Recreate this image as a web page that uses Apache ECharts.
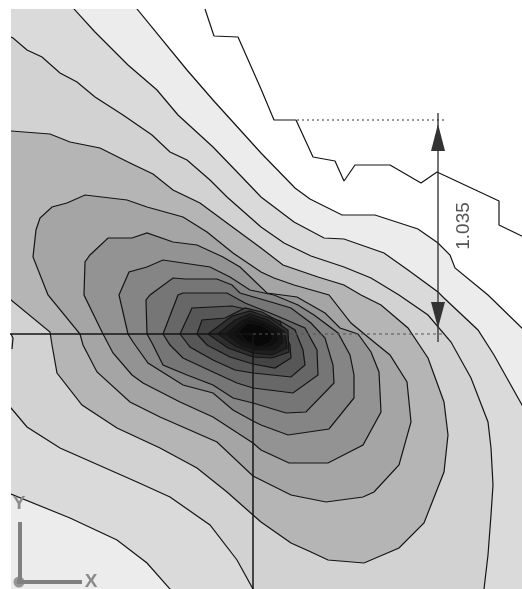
<!DOCTYPE html>
<html><head><meta charset="utf-8">
<style>html,body{margin:0;padding:0;background:#fff}#c{width:522px;height:589px;filter:blur(0.35px)}</style>
<script src="https://cdn.jsdelivr.net/npm/echarts@6/dist/echarts.min.js"></script>
</head><body><div id="c"></div>
<script>
const dimensionLabel = '1.035';
const axisLabelY = 'Y';
const axisLabelX = 'X';
const shades = ['#ececec','#dadada','#d2d2d2','#b5b5b5','#a5a5a5','#939393','#858585','#767676','#676767','#575757','#444444','#2e2e2e','#1f1f1f','#151515','#0e0e0e','#080808'];
const contourA = [[130,0],[137,9],[187,70],[213,100],[261,153],[295,188],[310,199],[342,215],[375,215],[418,229],[438,243],[450,255],[455,268],[488,295],[530,336],[530,600],[0,600],[0,0]];
const contourB = [[68,0],[74,9],[95,32],[128,65],[157,90],[178,115],[213,147],[240,175],[261,197],[294,222],[324,238],[344,239],[384,253],[408,270],[438,292],[444,298],[478,330],[494,355],[522,405],[530,420],[530,600],[175,600],[170,589],[147,563],[117,540],[70,518],[11,494],[0,490],[0,0]];
const contourC = [[0,33],[13,38],[27,50],[42,57],[60,73],[77,82],[95,97],[123,115],[152,135],[170,152],[187,160],[210,180],[227,197],[261,227],[284,243],[311,256],[344,267],[371,278],[399,295],[428,315],[451,342],[471,378],[488,422],[491,448],[493,485],[491,515],[488,555],[484,589],[483,600],[258,600],[253,589],[237,560],[210,525],[170,497],[137,482],[103,467],[60,448],[27,427],[11,408],[0,398]];
const contourD = [[0,131],[11,131],[50,134],[70,142],[100,148],[130,163],[153,174],[173,190],[200,203],[227,223],[261,248],[283,265],[318,277],[344,285],[361,295],[381,305],[408,328],[428,358],[444,402],[448,435],[444,472],[424,523],[399,548],[364,563],[328,560],[311,552],[291,543],[261,522],[253,515],[227,492],[197,468],[160,448],[117,428],[82,405],[57,373],[52,345],[50,332],[11,300],[0,292]];
const contourE = [[48,295],[33,257],[36,230],[40,218],[52,207],[67,203],[85,195],[127,200],[147,207],[183,217],[207,232],[233,253],[261,272],[274,278],[294,285],[329,295],[351,323],[374,342],[390,355],[407,382],[411,422],[399,465],[374,492],[363,497],[326,502],[291,495],[261,480],[253,476],[217,442],[160,417],[130,402],[97,372],[83,345],[80,334]];
const contourF = [[84,295],[85,262],[90,255],[108,238],[132,238],[147,233],[173,242],[197,245],[223,257],[240,267],[267,293],[297,297],[325,313],[340,328],[358,334],[371,352],[379,372],[381,412],[363,445],[328,463],[289,463],[261,450],[253,443],[213,417],[180,402],[143,383],[132,375],[113,353],[103,334]];
const contourG = [[119,295],[129,272],[147,267],[163,260],[210,267],[230,277],[250,290],[274,295],[298,305],[314,315],[338,333],[350,355],[354,375],[354,398],[329,429],[288,435],[261,425],[253,421],[233,410],[213,393],[183,385],[148,363],[133,342],[128,334]];
const contourH = [[147,334],[146,300],[150,295],[173,278],[185,279],[217,279],[232,285],[240,293],[271,302],[291,308],[311,323],[325,338],[333,365],[334,383],[306,412],[286,413],[253,403],[233,398],[213,385],[187,375],[163,365],[152,343]];
const contourI = [[163,334],[178,295],[183,293],[227,293],[245,303],[275,315],[305,328],[317,350],[318,375],[293,393],[253,388],[237,383],[213,372],[183,358],[170,345]];
const contourJ = [[180,334],[192,308],[212,307],[232,306],[250,310],[280,321],[295,330],[303,350],[305,365],[291,377],[253,373],[235,370],[213,360],[190,347]];
const contourK = [[197,334],[202,320],[225,318],[245,308],[262,312],[280,322],[290,345],[291,358],[275,368],[253,364],[230,357],[207,345]];
const contourL = [[208,334],[232,316],[250,311],[270,318],[288,330],[289,352],[272,358],[253,357],[228,348]];
const contourM = [[218,334],[235,320],[250,314],[268,320],[285,332],[287,348],[272,355],[253,353],[235,346]];
const contourN = [[226,334],[240,322],[250,317],[265,322],[281,331],[283,342],[275,350],[255,350],[240,345]];
const contourO = [[232,334],[242,325],[248,320],[263,323],[277,332],[279,340],[272,346],[257,348],[243,342]];
const contourP = [[238,332],[247,323],[261,325],[270,331],[273,338],[270,343],[258,347],[246,341]];
const contours = [contourA,contourB,contourC,contourD,contourE,contourF,contourG,contourH,contourI,contourJ,contourK,contourL,contourM,contourN,contourO,contourP];
const boundaryLine = [[205,9],[214,36],[238,37],[261,89],[274,120],[296,120],[313,157],[335,161],[344,181],[355,165],[390,165],[421,183],[437,172],[499,201],[499,225],[530,240]];
const leftStub = [[11,334],[13,338],[12,349]];
const crossH = [[0,334],[253,334]];
const crossV = [[253,334],[253,600]];
const dimExtTop = [[297,120],[445,120]];
const dimExtBottom = [[253,334],[445,334]];
const dimShaft = [[438,113],[438,342]];
const arrowTop = [[438,124],[445,151],[431,151]];
const arrowBottom = [[438,328],[431,302],[445,302]];
const triadV = [[20,522],[20,583]];
const triadH = [[17,582],[82,582]];
const triadO = [[19,582]];

function lineSeries(data,color,width,type,z){
  return {type:'line',data,showSymbol:false,symbol:'none',silent:true,animation:false,clip:true,z:z||5,
    lineStyle:{color,width,type:type||'solid'}};
}
function polySeries(list,fills,z,strokeColor,strokeWidth){
  return {type:'custom',coordinateSystem:'cartesian2d',animation:false,silent:true,clip:true,z,
    data:list.map((_,i)=>[i]),
    renderItem(p,api){
      const i=p.dataIndex;
      const pts=list[i].map(v=>api.coord(v));
      return {type:'polygon',shape:{points:pts},style:{fill:fills[i],stroke:strokeColor,lineWidth:strokeColor?strokeWidth:0}};
    }};
}
function textSeries(items){
  return {type:'custom',coordinateSystem:'cartesian2d',animation:false,silent:true,clip:false,z:9,
    data:items.map((_,i)=>[i]),
    renderItem(p,api){
      const t=items[p.dataIndex];const c=api.coord(t.at);
      return {type:'text',x:c[0],y:c[1],rotation:t.rot||0,
        style:{text:t.text,fill:t.color,font:t.font,align:'center',verticalAlign:'middle'}};
    }};
}
const chart=echarts.init(document.getElementById('c'),null,{renderer:'canvas'});
chart.setOption({
  animation:false,backgroundColor:'#fff',
  grid:{left:11,top:9,right:0,bottom:0,containLabel:false},
  xAxis:{type:'value',min:11,max:522,show:false},
  yAxis:{type:'value',min:9,max:589,inverse:true,show:false},
  series:[
    polySeries(contours,shades,2,'#141414',1.2),
    lineSeries(boundaryLine,'#141414',1.2),
    lineSeries(leftStub,'#141414',1.2),
    lineSeries(crossH,'#141414',1.5,'solid',6),
    lineSeries(crossV,'#141414',1.5,'solid',6),
    lineSeries(dimExtTop,'#333333',1,[2,3],6),
    lineSeries(dimExtBottom,'#555555',1.2,[3,3],6),
    lineSeries(dimShaft,'#2a2a2a',1.3,'solid',6),
    polySeries([arrowTop,arrowBottom],['#333333','#333333'],7),
    lineSeries(triadV,'#808080',4,'solid',8),
    lineSeries(triadH,'#808080',4,'solid',8),
    {type:'scatter',data:triadO,symbolSize:11,itemStyle:{color:'#808080'},silent:true,animation:false,z:8},
    textSeries([
      {text:dimensionLabel,at:[464,226],rot:Math.PI/2,color:'#555555',font:'19px "Liberation Sans"'},
      {text:axisLabelY,at:[19,504],color:'#8a8a8a',font:'bold 19px "Liberation Sans"'},
      {text:axisLabelX,at:[91,582],color:'#8a8a8a',font:'bold 19px "Liberation Sans"'}
    ])
  ]
});
</script></body></html>
